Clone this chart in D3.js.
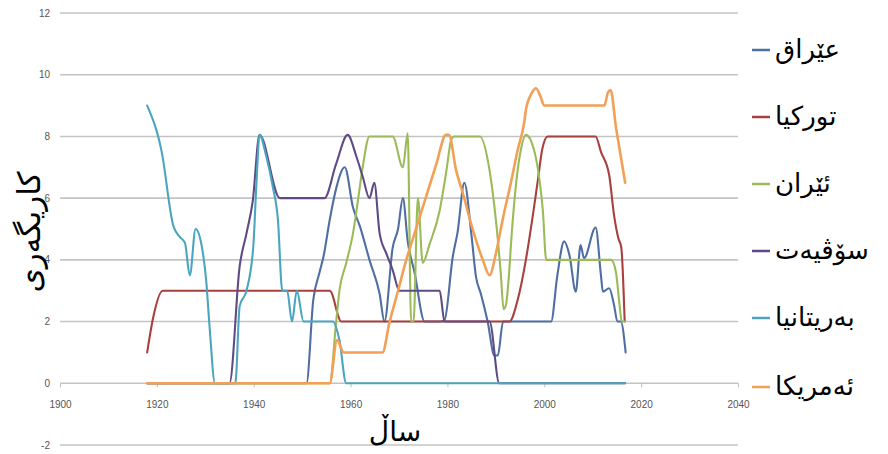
<!DOCTYPE html>
<html>
<head>
<meta charset="utf-8">
<script src="https://cdn.jsdelivr.net/npm/d3@7"></script>
<style>
  html, body { margin: 0; padding: 0; background: #ffffff; }
  svg { display: block; }
</style>
</head>
<body>
<svg id="chart" width="888" height="454"></svg>
<script>
// ---------- data ----------
const seriesNames = ["عێراق", "تورکیا", "ئێران", "سۆڤیەت", "بەریتانیا", "ئەمریکا"];
const seriesColors = ["#4f6fa3", "#a8403e", "#9bbb59", "#5e4b86", "#4ba5bf", "#f2a055"];

const xTicks = [1900, 1920, 1940, 1960, 1980, 2000, 2020, 2040];
const yTicks = [-2, 0, 2, 4, 6, 8, 10, 12];
const xTitle = "ساڵ";
const yTitle = "کاریگەری";

const iraqYears  = [1918, 1950.9, 1952.3, 1953.6, 1954.4, 1955.7, 1957, 1958.8, 1960.5, 1961.9, 1963.9, 1966, 1967, 1968.7, 1969.8, 1970.8, 1971.8, 1973.2, 1975.3, 1978.4, 1979.4, 1981.1, 1982.1, 1983.5, 1984.9, 1985.9, 1986.9, 1988.3, 1989.7, 1990.4, 1991.5, 2001.4, 2002.7, 2004.1, 2005.2, 2006.5, 2007.5, 2008.2, 2010.6, 2011.7, 2012.1, 2013.4, 2014.4, 2015.1, 2015.8, 2016.8];
const iraqValues = [0, 0, 2.7, 3.6, 4.1, 5.3, 6.3, 7.0, 5.7, 5.1, 4.0, 2.9, 2.0, 4.4, 5.0, 6.0, 4.6, 3.6, 2.0, 2.0, 2.05, 4.1, 4.9, 6.5, 4.9, 3.45, 2.9, 2.0, 0.9, 0.9, 2.0, 2.0, 3.5, 4.6, 4.15, 2.97, 4.48, 4.05, 5.05, 3.5, 2.97, 3.08, 2.54, 2.0, 2.0, 1.0];

const turkeyYears  = [1918, 1919.2, 1921.2, 1955.7, 1958.1, 1992.8, 1994.5, 1996.2, 1997.6, 1998.6, 1999.6, 2000.7, 2010.6, 2011.7, 2013.4, 2014.4, 2015.3, 2015.9, 2016.6];
const turkeyValues = [1.0, 2.1, 3.0, 3.0, 2.0, 2.0, 2.7, 4.0, 5.4, 6.5, 7.6, 8.0, 8.0, 7.5, 6.75, 5.45, 4.7, 4.4, 2.0];

const iranYears  = [1918, 1955.7, 1957, 1957.7, 1959.1, 1960.5, 1961.5, 1962.5, 1963.9, 1968.7, 1970.8, 1971.8, 1972.5, 1973.0, 1973.9, 1974.9, 1976.3, 1978.4, 1979.8, 1980.8, 1981.4, 1986.7, 1988.7, 1990, 1991.0, 1991.6, 1992.1, 1992.6, 1993.3, 1994.2, 1995.2, 1996.2, 1997.9, 1999.0, 1999.7, 2000.4, 2013.8, 2014.8, 2015.5, 2016.0, 2016.6];
const iranValues = [0, 0, 1.95, 3.0, 3.9, 4.86, 5.9, 7.0, 8.0, 8.0, 7.0, 8.1, 2.0, 2.0, 6.0, 3.9, 4.5, 5.6, 6.9, 7.9, 8.0, 8.0, 6.9, 5.3, 3.6, 2.4, 2.55, 3.3, 4.9, 6.5, 7.6, 8.05, 7.55, 6.6, 5.6, 4.0, 4.0, 3.6, 2.6, 2.0, 2.0];

const sovietYears  = [1918, 1935.0, 1937.1, 1938.5, 1939.8, 1941.2, 1945.4, 1954.6, 1957.0, 1959.4, 1961.2, 1962.5, 1963.9, 1964.9, 1966, 1967.4, 1968.7, 1970.1, 1978.4, 1979.4, 1988.7, 1990.7, 2016.7];
const sovietValues = [0, 0, 3.8, 4.85, 5.9, 8.05, 6.0, 6.0, 7.1, 8.05, 7.35, 6.7, 6.0, 6.5, 4.86, 4.2, 3.67, 3.0, 3.0, 2.0, 2.0, 0, 0];

const britainYears  = [1918, 1921, 1923.4, 1924.7, 1925.8, 1926.8, 1928, 1929.2, 1930.2, 1930.9, 1932, 1936.2, 1937.1, 1938.5, 1939.9, 1940.6, 1941.2, 1942.6, 1943.9, 1945, 1945.9, 1946.9, 1947.9, 1948.9, 1950.3, 1956.3, 1957.7, 1959.1, 2016.7];
const britainValues = [9.0, 7.5, 5.1, 4.75, 4.55, 3.5, 5.0, 4.5, 3.3, 1.8, 0, 0, 2.5, 3.0, 4.4, 6.6, 8.05, 7.35, 6.4, 5.3, 3.0, 3.0, 2.0, 3.0, 2.0, 2.0, 1.4, 0, 0];

const usaYears  = [1918, 1955.7, 1957.2, 1958.6, 1966.6, 1968, 1969.8, 1971.5, 1973.5, 1975.6, 1977.7, 1979.7, 1980.3, 1981.8, 1983.2, 1985.2, 1987.3, 1988.7, 1990, 1991.4, 1993.1, 1994.5, 1995.9, 1996.2, 1997.4, 1998.3, 1999.2, 2000, 2012.4, 2013.1, 2013.7, 2014.8, 2015.8, 2016.7];
const usaValues = [0, 0, 1.4, 1.0, 1.0, 1.95, 3.0, 4.0, 5.0, 6.05, 7.1, 8.05, 8.05, 6.9, 6.15, 5.0, 4.0, 3.5, 4.2, 5.3, 6.5, 7.56, 8.5, 8.86, 9.4, 9.56, 9.3, 9.0, 9.0, 9.4, 9.5, 8.3, 7.35, 6.5];

const allYears  = [iraqYears, turkeyYears, iranYears, sovietYears, britainYears, usaYears];
const allValues = [iraqValues, turkeyValues, iranValues, sovietValues, britainValues, usaValues];

// ---------- drawing ----------
const svg = d3.select("#chart");
const x = d3.scaleLinear().domain([1900, 2040]).range([60, 738]);
const y = d3.scaleLinear().domain([-2, 12]).range([445, 13]);

// gridlines
svg.append("g").selectAll("line").data(yTicks).join("line")
  .attr("x1", x(1900)).attr("x2", x(2040))
  .attr("y1", d => y(d)).attr("y2", d => y(d))
  .attr("stroke", "#c4c4c4").attr("stroke-width", 1.6);

// y tick labels
svg.append("g").selectAll("text").data(yTicks).join("text")
  .attr("x", 50).attr("y", d => y(d)).attr("dy", "0.35em")
  .attr("text-anchor", "end")
  .attr("font-family", "'Liberation Sans Narrow', 'Liberation Sans', Arial, sans-serif")
  .attr("font-size", 10).attr("fill", "#555")
  .text(d => d);

// x axis ticks on zero line
const xAxis = d3.axisBottom(x).tickValues(xTicks).tickSize(4).tickFormat(d => d);
const gx = svg.append("g").attr("transform", `translate(0,${y(0)})`).call(xAxis);
gx.select(".domain").remove();
gx.selectAll(".tick line").attr("stroke", "#bdbdbd").attr("stroke-width", 1);
gx.selectAll(".tick text")
  .attr("y", 18)
  .attr("font-family", "'Liberation Sans Narrow', 'Liberation Sans', Arial, sans-serif")
  .attr("font-size", 10).attr("fill", "#555");

// lines
const line = d3.line().curve(d3.curveMonotoneX)
  .x(d => x(d[0])).y(d => y(d[1]));

allYears.forEach((yrs, i) => {
  const pts = yrs.map((yr, k) => [yr, allValues[i][k]]);
  const w = i === 5 ? 2.6 : 2.1;
  svg.append("path")
    .datum(pts)
    .attr("d", line)
    .attr("fill", "none")
    .attr("stroke", seriesColors[i])
    .attr("stroke-width", w)
    .attr("stroke-linejoin", "round")
    .attr("stroke-linecap", "round");
});

// axis titles
svg.append("text")
  .attr("transform", "translate(40,232) rotate(-90)")
  .attr("text-anchor", "middle")
  .attr("font-family", "'DejaVu Sans', sans-serif")
  .attr("font-size", 31).attr("fill", "#000")
  .text(yTitle);

svg.append("text")
  .attr("x", 395).attr("y", 441)
  .attr("text-anchor", "middle")
  .attr("font-family", "'DejaVu Sans', sans-serif")
  .attr("font-size", 28).attr("fill", "#000")
  .text(xTitle);

// legend
const legendY = [50, 117, 184, 251, 318, 387];
const lg = svg.append("g");
seriesNames.forEach((name, i) => {
  lg.append("line")
    .attr("x1", 752).attr("x2", 770)
    .attr("y1", legendY[i]).attr("y2", legendY[i])
    .attr("stroke", seriesColors[i]).attr("stroke-width", 2.5);
  lg.append("text")
    .attr("x", 775).attr("y", legendY[i]).attr("dy", "0.3em")
    .attr("text-anchor", "start")
    .attr("direction", "ltr")
    .attr("font-family", "'DejaVu Sans', sans-serif")
    .attr("font-size", 26).attr("fill", "#000")
    .text(name);
});
</script>
</body>
</html>
